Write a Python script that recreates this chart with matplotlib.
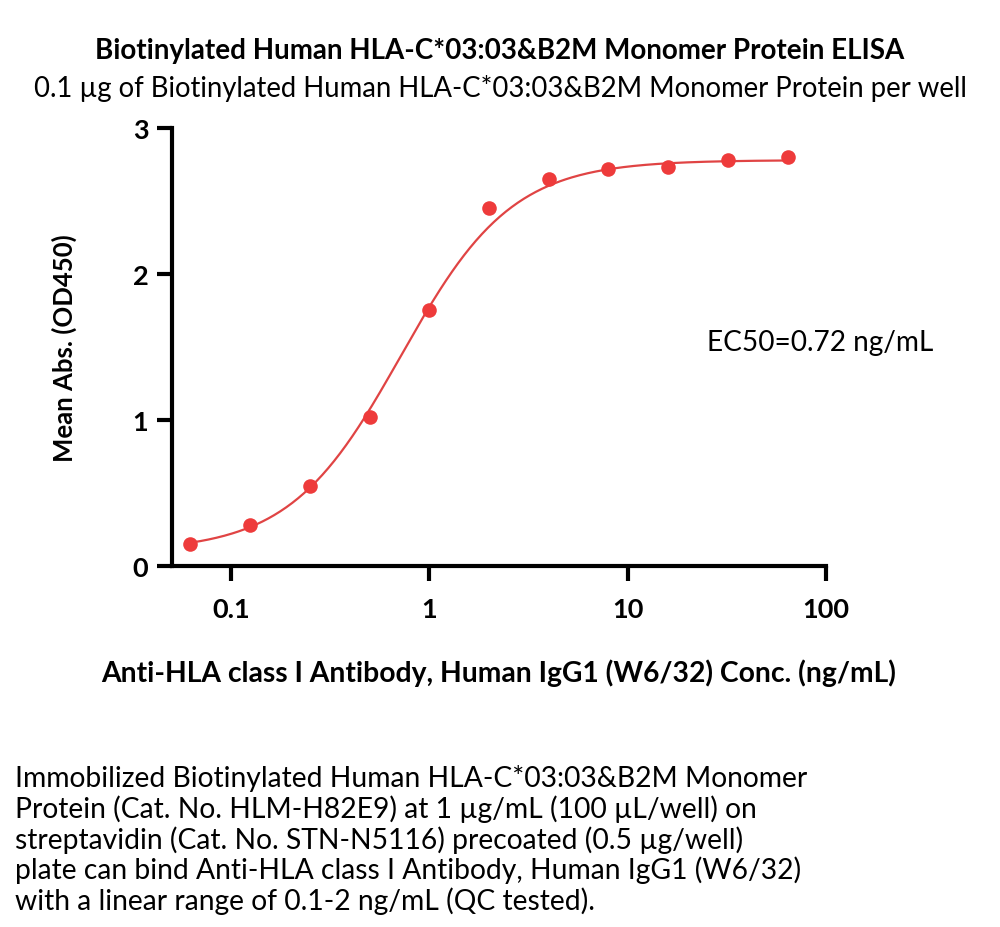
import numpy as np
import matplotlib
matplotlib.use("Agg")
import matplotlib.pyplot as plt

# concentrations (ng/mL) and mean OD450
conc = [0.0625, 0.125, 0.25, 0.5, 1, 2, 4, 8, 16, 32, 64]
od450 = [0.15, 0.28, 0.55, 1.02, 1.75, 2.45, 2.65, 2.72, 2.73, 2.78, 2.80]

# 4PL fit parameters (bottom, top, EC50, hill)
fit_bottom = 0.10
fit_top = 2.78
fit_ec50 = 0.72
fit_hill = 1.55

x_ticks = [0.1, 1, 10, 100]
x_ticklabels = ["0.1", "1", "10", "100"]
y_ticks = [0, 1, 2, 3]

red = "#ee3b3b"
plt.rcParams['font.family'] = ['Lato', 'DejaVu Sans']

fig = plt.figure(figsize=(10, 9.28), dpi=100)
ax = fig.add_axes([0.172, 0.389, 0.654, 0.472])

# fitted curve
xs = np.logspace(np.log10(conc[0]), np.log10(conc[-1]), 300)
ys = fit_bottom + (fit_top - fit_bottom) / (1 + (fit_ec50 / xs) ** fit_hill)
ax.plot(xs, ys, color="#e04444", lw=1.6, zorder=2)
ax.plot(conc, od450, 'o', color=red, ms=10.5, mec='none', zorder=3)

ax.set_xscale('log')
ax.set_xlim(0.0505, 100)
ax.set_ylim(0, 3)
ax.set_xticks(x_ticks)
ax.set_xticklabels(x_ticklabels)
ax.xaxis.set_minor_locator(matplotlib.ticker.NullLocator())
ax.set_yticks(y_ticks)

for s in ['top', 'right']:
    ax.spines[s].set_visible(False)
for s in ['left', 'bottom']:
    ax.spines[s].set_linewidth(3)
ax.tick_params(axis='both', width=3, length=11, labelsize=19.5, pad=6)
ax.tick_params(axis='x', pad=11)
for lab in ax.get_xticklabels() + ax.get_yticklabels():
    lab.set_fontweight('bold')

ax.set_ylabel("Mean Abs. (OD450)", fontsize=18.5, fontweight='bold')
ax.yaxis.set_label_coords(-0.146, 0.5)
ax.set_xlabel("Anti-HLA class I Antibody, Human IgG1 (W6/32) Conc. (ng/mL)",
              fontsize=20.3, fontweight='bold')
ax.xaxis.set_label_coords(0.50, -0.21)

fig.text(707 / 1000, 1 - 343 / 928, "EC50=0.72 ng/mL", fontsize=20.2, ha='left', va='center')

fig.text(0.5, 1 - 51 / 928, "Biotinylated Human HLA-C*03:03&B2M Monomer Protein ELISA",
         ha='center', va='center', fontsize=20, fontweight='bold')
fig.text(0.5, 1 - 88 / 928, "0.1 \u00b5g of Biotinylated Human HLA-C*03:03&B2M Monomer Protein per well",
         ha='center', va='center', fontsize=19.8)

note = ("Immobilized Biotinylated Human HLA-C*03:03&B2M Monomer\n"
        "Protein (Cat. No. HLM-H82E9) at 1 \u00b5g/mL (100 \u00b5L/well) on\n"
        "streptavidin (Cat. No. STN-N5116) precoated (0.5 \u00b5g/well)\n"
        "plate can bind Anti-HLA class I Antibody, Human IgG1 (W6/32)\n"
        "with a linear range of 0.1-2 ng/mL (QC tested).")
fig.text(15 / 1000, 1 - 765 / 928, note, ha='left', va='top', fontsize=20.3, linespacing=1.14)

fig.savefig("out.png", dpi=100, facecolor='white')
